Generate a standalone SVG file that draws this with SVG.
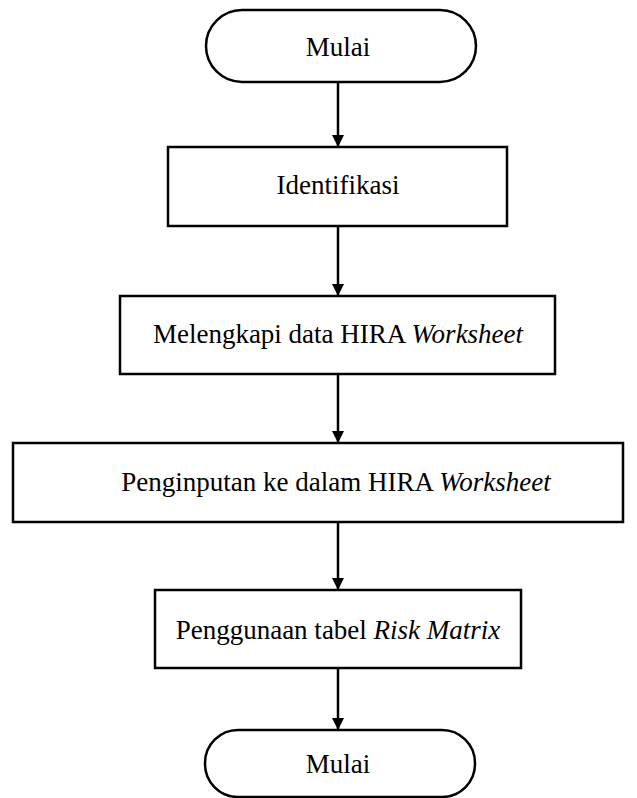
<svg xmlns="http://www.w3.org/2000/svg" width="637" height="798" viewBox="0 0 637 798">
<defs>
<style>
.shape{fill:#fff;stroke:#000;stroke-width:2.5}
.lbl{font-family:"Liberation Serif","Times New Roman",serif;font-size:27px;fill:#000;text-anchor:middle}
.it{font-style:italic}
.conn{stroke:#000;stroke-width:2.5;fill:none;marker-end:url(#ah)}
</style>
<marker id="ah" viewBox="0 0 10 10" refX="10" refY="5" markerWidth="5" markerHeight="5" orient="auto" markerUnits="strokeWidth">
<path d="M0,0 L10,5 L0,10 z" fill="#000"/>
</marker>
</defs>
<rect width="637" height="798" fill="#fff"/>
<g id="connectors">
<line class="conn" x1="338" y1="82" x2="338" y2="147"/>
<line class="conn" x1="338" y1="226" x2="338" y2="296"/>
<line class="conn" x1="338" y1="374" x2="338" y2="443"/>
<line class="conn" x1="338" y1="522" x2="338" y2="590"/>
<line class="conn" x1="338" y1="668" x2="338" y2="730"/>
</g>
<g id="start">
<rect class="shape" x="206" y="10" width="270" height="72" rx="36"/>
<text class="lbl" x="338" y="56">Mulai</text>
</g>
<g id="identifikasi">
<rect class="shape" x="168" y="147" width="339" height="79"/>
<text class="lbl" x="338" y="194">Identifikasi</text>
</g>
<g id="melengkapi">
<rect class="shape" x="120" y="296" width="435" height="78"/>
<text class="lbl" x="338" y="343">Melengkapi data HIRA <tspan class="it">Worksheet</tspan></text>
</g>
<g id="penginputan">
<rect class="shape" x="13" y="443" width="610" height="79"/>
<text class="lbl" x="336" y="491">Penginputan ke dalam HIRA <tspan class="it">Worksheet</tspan></text>
</g>
<g id="penggunaan">
<rect class="shape" x="155" y="590" width="366" height="78"/>
<text class="lbl" x="338" y="639">Penggunaan tabel <tspan class="it">Risk Matrix</tspan></text>
</g>
<g id="end">
<rect class="shape" x="205" y="730" width="270" height="67" rx="33"/>
<text class="lbl" x="338" y="773">Mulai</text>
</g>
</svg>
